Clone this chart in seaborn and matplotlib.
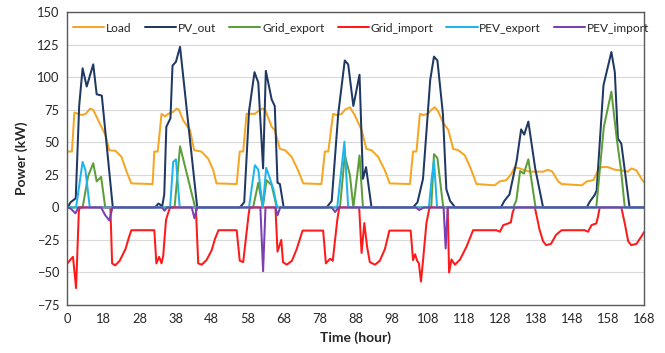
import numpy as np
import pandas as pd
import matplotlib
matplotlib.use("Agg")
import matplotlib.pyplot as plt
import seaborn as sns

# ---- data: (hour, kW) vertices ----
load_h = [0, 1.3, 2, 4.2, 5.3, 6.6, 7.5, 9.7, 11, 12.2, 14, 15.7, 17.3, 18.6, 24.8,
          25.3, 26.3, 27.4, 28.4, 29.4, 30.8, 31.8, 32.5, 33.7, 35.7, 36.9, 39, 41, 42.5, 43.4, 49.3,
          50.2, 51.2, 52.2, 54.6, 55.6, 56.8, 57.6, 59.5, 60.4, 61.9, 63.4, 65.3, 67.2, 68.7, 74,
          75, 76, 77.4, 78.4, 79.9, 80.8, 82.3, 83.7, 85.7, 87.1, 88.6, 90.5, 92.5, 93.9, 99.8,
          100.7, 101.7, 102.7, 103.6, 105.1, 106, 107, 108, 109.5, 111, 112.4, 113.9, 115.8, 117.5, 119.2,
          124.5, 125.9, 127.9, 129.4, 130.3, 131.8, 133.3, 134.7, 136.7, 138.6, 140, 141.3, 143, 144,
          149.9, 151.3, 153.3, 154.6, 155.6, 157.5, 159.5, 161.4, 163.2, 164.4, 165.8, 167.5, 168]
load_v = [43, 43, 73, 71, 72, 76, 75, 63, 56, 44, 43.5, 39, 27, 18.5, 18,
          43, 43, 72, 70, 72, 73.5, 76, 75, 67, 59.5, 44, 43, 37.5, 28.5, 18.5, 18,
          43, 43, 72, 72, 74, 76, 75, 62, 59.5, 45, 44, 39, 28.5, 18.5, 18,
          43, 43, 72, 71, 72, 75, 77, 71, 59.5, 45, 44, 39, 28.5, 18.5, 18,
          43, 43, 72, 71, 72, 75, 77, 74, 65, 59.5, 45, 44, 40, 30, 18,
          17, 20, 21, 26, 31, 30, 28.5, 27.5, 27.5, 27.5, 29, 27.5, 20, 18,
          17, 20, 21, 28.5, 31, 31, 29, 28.5, 27.5, 30, 28.5, 21, 19.5]

pv_h = [0, 0.9, 2.4, 3.4, 4.4, 5.6, 7.5, 8.5, 10, 13.2,
        25.5, 26.5, 27.6, 28.2, 28.8, 30, 30.6, 31.6, 32.8, 37.8,
        50.2, 51.5, 52.9, 54.5, 55.6, 57, 57.8, 59.5, 60.4, 61.2, 61.9, 63,
        75.5, 77, 78.9, 80.8, 81.8, 83.3, 85.1, 86.1, 87, 88.6,
        100.7, 102, 103.6, 104.6, 105.7, 106.8, 107.8, 109.4, 110.4, 111.5, 113,
        126.3, 127.3, 128.8, 130.9, 132.2, 133.1, 134.3, 136.3, 138.6,
        151.3, 152.2, 153.6, 154.2, 156.2, 158.5, 159.5, 160.4, 161.4, 163.8, 168]
pv_v = [0, 4, 7, 78, 107, 93, 110, 87, 86, 0,
        0, 3, 1, 10, 62, 68.5, 109, 112, 123.5, 0,
        0, 4, 74, 104, 96, 30, 105, 83, 78, 19, 18, 0,
        0, 5, 72, 113, 110, 78, 102, 22, 31, 0,
        0, 4, 22, 58, 98, 116, 113, 72, 14, 5, 0,
        0, 5, 10, 36, 60, 56, 66, 30, 0,
        0, 4.4, 9.5, 13, 94, 119.5, 104, 53, 49, 0, 0]

gexp_h = [0, 4.4, 6, 7.5, 8.5, 9.8, 11,
          31.2, 32.8, 37.2,
          54.1, 55.6, 56.9, 58, 59.5, 61,
          79.4, 80.8, 82.3, 83.3, 85.1, 86.1,
          106, 106.8, 107.8, 109.5,
          129.9, 130.8, 131.9, 133, 134.3, 136.4,
          154.1, 156.3, 158.5, 160.1, 161.3, 162.4, 168]
gexp_v = [0, 0, 24, 34, 20, 23.5, 0,
          0, 47, 0,
          0, 19, 0, 21, 17, 0,
          0, 40, 25, 0, 40, 0,
          0, 41, 38, 0,
          0, 5.5, 28, 26, 37, 0,
          0, 62, 89, 52, 29, 0, 0]

gimp_h = [0, 0.9, 1.6, 2.5, 3.3, 3.6, 12.5, 13, 13.9, 15.2, 16.9, 17.9, 18.6, 25.3,
          25.9, 26.7, 27.4, 27.9, 28.7, 29.3, 29.9, 37.4, 38.1, 39.1, 40.5, 42, 43, 44, 49.3,
          50.2, 51.2, 52.8, 53.1, 60.6, 61.2, 62.3, 62.8, 63.9, 65.4, 66.8, 68.5, 74.5,
          75.3, 76.5, 77.3, 78.6, 79.2, 85, 85.7, 86.5, 87.3, 88.1, 89.6, 91, 92.5, 93.8, 100,
          100.7, 101.3, 101.9, 102.4, 103, 103.6, 104.6, 105.5, 110.8, 111.2, 111.9, 112.9, 114.4,
          116.3, 118.2, 125, 126, 127, 128.4, 129.2, 129.7, 130.3,
          136.2, 137.6, 138.6, 139.5, 140.9, 142.4, 144, 150.7,
          151.7, 152.7, 154.1, 154.6, 155.1, 161.4, 162.4, 163.4, 164.3, 165.8, 167.2, 168]
gimp_v = [-43, -40, -38, -62, -3, 0, 0, -43, -44.5, -41, -32, -23, -17.5, -17.5,
          -43, -38, -43, -37, -9.7, -4.5, 0, 0, -43, -44, -40.5, -33, -24, -17.5, -17.5,
          -41, -42, -5, 0, 0, -34, -25, -42, -44, -41, -32, -17.8, -17.8,
          -43, -39.5, -41, -10, 0, 0, -35, -12, -30, -42, -44, -41, -32, -17.8, -17.8,
          -40.5, -36, -41, -43, -57, -41, -12, 0, 0, -50, -40, -44, -40,
          -30, -17.5, -17.5, -18.7, -13.6, -12.3, -11.5, -4, 0,
          0, -17.5, -26, -29, -28, -21, -17.5, -17.5,
          -18.7, -13.6, -12.3, -7, 0, 0, -12.3, -26, -29, -28, -22.5, -19]

pexp_h = [0, 2.5, 4.4, 5.2, 6.5,
          29.9, 30.8, 31.6, 32.7,
          52.9, 54.6, 55.6, 56.9, 57.9, 58.9, 60, 61.1,
          78.6, 80.7, 81.8,
          105.3, 106.2, 106.8, 107.7, 168]
pexp_v = [0, 0, 35, 29, 0,
          0, 35, 37, 0,
          0, 32.5, 29, 0, 30.5, 23, 14, 0,
          0, 50.5, 0,
          0, 24, 36, 0, 0]

pimp_h = [0, 1, 2.3, 3.2, 9.8, 11, 12.2, 13.1,
          27.5, 28.3, 29, 36.2, 37, 37.8,
          56.2, 57, 57.7, 60.6, 61.2, 62,
          77, 78, 79,
          101.5, 102.5, 103.8, 109.6, 110.2, 110.8, 168]
pimp_v = [0, -1, -4.5, 0, 0, -6, -10, 0,
          0, -2.5, 0, 0, -8.3, 0,
          0, -49, 0, 0, -6, 0,
          0, -3.5, 0,
          0, -2, 0, 0, -31.5, 0, 0]

series_names = ["Load", "PV_out", "Grid_export", "Grid_import", "PEV_export", "PEV_import"]
series_colors = ["#F5A623", "#1F3864", "#5E9E3A", "#FF1A1A", "#1EB4EC", "#7A3FB0"]
x_tick_labels = ["0", "18", "28", "38", "48", "58", "68", "78", "88", "98",
                 "108", "118", "128", "138", "148", "158", "168"]
y_ticks = [-75, -50, -25, 0, 25, 50, 75, 100, 125, 150]

frames = []
for name, hs, vs in zip(series_names,
                        [load_h, pv_h, gexp_h, gimp_h, pexp_h, pimp_h],
                        [load_v, pv_v, gexp_v, gimp_v, pexp_v, pimp_v]):
    frames.append(pd.DataFrame({"hour": hs, "power": vs, "series": name}))
df = pd.concat(frames, ignore_index=True)

sns.set_theme(style="white")
plt.rcParams["font.family"] = ["Lato", "DejaVu Sans"]

fig = plt.figure(figsize=(6.65, 3.53), dpi=100)
ax = fig.add_axes([0.1015, 0.136, 0.8669, 0.829])

sns.lineplot(data=df, x="hour", y="power", hue="series", hue_order=series_names,
             palette=dict(zip(series_names, series_colors)), estimator=None,
             sort=False, linewidth=1.45, ax=ax)

ax.set_xlim(0, 168)
ax.set_ylim(-75, 150)
ax.set_yticks(y_ticks)
ax.set_xticks(np.linspace(0, 168, len(x_tick_labels)))
ax.set_xticklabels(x_tick_labels)
ax.yaxis.grid(True, color="#D9D9D9", linewidth=0.8)
ax.xaxis.grid(False)
ax.set_axisbelow(True)
ax.tick_params(axis="both", length=0, labelsize=9.3, colors="#262626", pad=6)
for s in ax.spines.values():
    s.set_visible(True)
    s.set_color("#595959")
    s.set_linewidth(1.0)

ax.set_xlabel("Time (hour)", fontsize=10, fontweight="bold", color="#262626", labelpad=4)
ax.set_ylabel("Power (kW)", fontsize=10, fontweight="bold", color="#262626", labelpad=6)

handles, labels = ax.get_legend_handles_labels()
ax.legend(handles, labels, loc="upper center", bbox_to_anchor=(0.51, 1.0), ncol=6,
          frameon=False, fontsize=8.6, handlelength=2.6, handletextpad=0.15,
          columnspacing=1.1, borderaxespad=0.45)

fig.savefig("out.png", dpi=100)
